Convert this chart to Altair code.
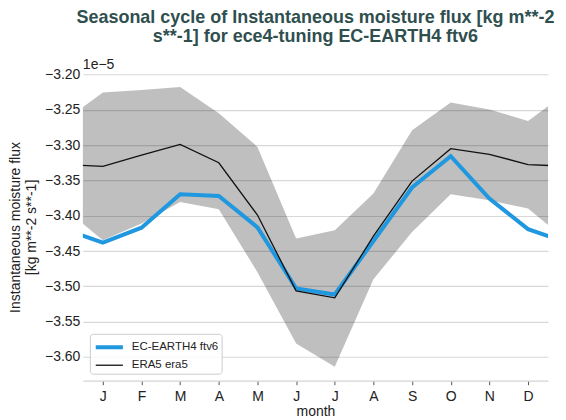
import altair as alt
import pandas as pd

months = list(range(1, 13))
month_labels = ["J", "F", "M", "A", "M", "J", "J", "A", "S", "O", "N", "D"]

# values in units of 1e-5 kg m**-2 s**-1
ece4 = [-3.438, -3.417, -3.3695, -3.372, -3.4165, -3.503, -3.5116, -3.436, -3.360, -3.3157, -3.3757, -3.419]
era5 = [-3.330, -3.314, -3.299, -3.325, -3.399, -3.5065, -3.5164, -3.429, -3.351, -3.305, -3.313, -3.3275]
era5_low = [-3.4347, -3.411, -3.3804, -3.391, -3.480, -3.581, -3.614, -3.490, -3.423, -3.3695, -3.378, -3.3898]
era5_high = [-3.2255, -3.222, -3.2175, -3.255, -3.3025, -3.4323, -3.4205, -3.3686, -3.279, -3.2397, -3.2496, -3.2657]

name_model = "EC-EARTH4 ftv6"
name_ref = "ERA5 era5"
y_ticks = [-3.60, -3.55, -3.50, -3.45, -3.40, -3.35, -3.30, -3.25, -3.20]


def wrap(vals):
    # cyclic: December before January, January after December
    return [vals[-1]] + list(vals) + [vals[0]]


xm = [0] + months + [13]
band = pd.DataFrame({"month": xm, "low": wrap(era5_low), "high": wrap(era5_high)})
lines = pd.concat([
    pd.DataFrame({"month": xm, "value": wrap(ece4), "series": name_model, "order": 0}),
    pd.DataFrame({"month": xm, "value": wrap(era5), "series": name_ref, "order": 1}),
])

xscale = alt.Scale(domain=[0.483, 12.517], nice=False, zero=False)
yscale = alt.Scale(domain=[-3.6337, -3.1982], nice=False, zero=False)

label_expr = "[" + ",".join("'" + m + "'" for m in month_labels) + "][datum.value - 1]"


def x_axis():
    return alt.Axis(
        values=months, labelExpr=label_expr, title="month", grid=False,
        domainColor="#d4d4d4", domainWidth=1.2, tickColor="#555555", tickSize=4,
        labelFontSize=14, labelColor="#222222", labelPadding=5, titleFontSize=14,
        titleFontWeight="normal", titleColor="#222222", titleBaseline="alphabetic",
        titleY=35,
    )


def y_axis():
    return alt.Axis(
        values=y_ticks, format=".2f", domain=False, ticks=False, grid=True,
        gridColor="#d8d8d8", gridWidth=1.2, labelFontSize=14, labelColor="#222222",
        labelPadding=3, labelOverlap=False,
        title=["Instantaneous moisture flux", "[kg m**-2 s**-1]"], titleFontSize=14,
        titleFontWeight="normal", titleColor="#222222", titlePadding=6, titleLineHeight=16,
    )


band_chart = alt.Chart(band).mark_area(color="black", opacity=0.25, clip=True).encode(
    x=alt.X("month:Q", scale=xscale, axis=x_axis()),
    y=alt.Y("low:Q", scale=yscale, axis=y_axis()),
    y2="high:Q",
)

line_chart = alt.Chart(lines).mark_line(clip=True).encode(
    x=alt.X("month:Q", scale=xscale, axis=x_axis()),
    y=alt.Y("value:Q", scale=yscale, axis=y_axis()),
    color=alt.Color(
        "series:N",
        scale=alt.Scale(domain=[name_model, name_ref], range=["#1f98e0", "#111111"]),
        legend=alt.Legend(
            title=None, orient="bottom-left", offset=7, symbolType="M-1.6,0H1.6",
            symbolSize=289, labelFontSize=11.5, labelColor="#222222",
            strokeColor="#cccccc", fillColor="rgba(255,255,255,0.85)", cornerRadius=3,
            padding=3, rowPadding=0, labelOffset=12, symbolOffset=6,
        ),
    ),
    strokeWidth=alt.StrokeWidth(
        "series:N",
        scale=alt.Scale(domain=[name_model, name_ref], range=[4, 1.3]),
        legend=None,
    ),
    order="order:Q",
    detail="series:N",
)

exp_text = alt.Chart(pd.DataFrame({"t": ["1e\u22125"]})).mark_text(
    align="left", baseline="alphabetic", fontSize=14, color="#222222"
).encode(text="t:N", x=alt.value(0), y=alt.value(-4))

chart = alt.layer(band_chart, line_chart, exp_text).properties(
    width=466,
    height=308,
    autosize=alt.AutoSizeParams(type="none"),
    padding={"left": 75, "top": 65, "right": 10, "bottom": 42},
    title=alt.TitleParams(
        ["Seasonal cycle of Instantaneous moisture flux [kg m**-2", "s**-1] for ece4-tuning EC-EARTH4 ftv6"],
        fontSize=18, fontWeight="bold", color="#2f4f4f", anchor="middle",
        lineHeight=19, offset=12, font="Liberation Sans",
    ),
).configure(font="Liberation Sans").configure_view(stroke=None)

chart.save("out.html", embed_options={"renderer": "svg", "actions": False})
